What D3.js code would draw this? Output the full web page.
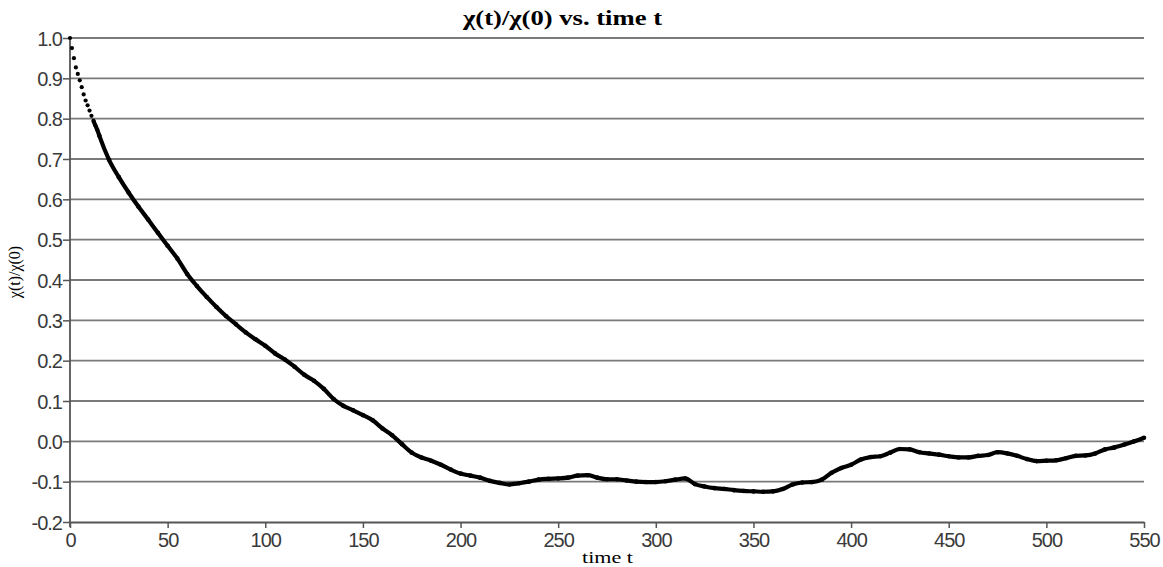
<!DOCTYPE html>
<html>
<head>
<meta charset="utf-8">
<script src="https://cdn.jsdelivr.net/npm/d3@7"></script>
<style>
  body { margin: 0; background: #fff; }
  svg { display: block; }
  .tick text { font-family: "Liberation Sans", Arial, sans-serif; font-size: 20px; fill: #3a3a3a; letter-spacing: -1px; }
</style>
</head>
<body>
<svg></svg>
<script>
// sampled curve chi(t)/chi(0)
let times = [0,1,2,3,4,5,6,7,8,9,10,11,12,13,14,
  15,20,25,30,35,40,45,50,55,60,65,70,75,80,85,90,95,100,105,110,115,120,125,130,135,140,145,150,
  155,160,165,170,175,180,185,190,195,200,205,210,215,220,225,230,235,240,245,250,255,260,265,270,
  275,280,285,290,295,300,305,310,315,320,325,330,335,340,345,350,355,360,365,370,375,380,385,390,
  395,400,405,410,415,420,425,430,435,440,445,450,455,460,465,470,475,480,485,490,495,500,505,510,
  515,520,525,530,535,540,545,550];
let ratio = [1.0,0.975,0.95,0.927,0.911,0.895,0.878,0.860,0.845,0.833,0.820,0.807,0.795,0.783,0.772,
  0.758,0.698,0.655,0.617,0.582,0.55,0.517,0.485,0.453,0.415,0.385,0.358,0.333,0.31,0.29,0.27,0.253,0.237,0.218,0.203,0.185,0.165,0.15,0.13,0.105,0.088,0.077,0.065,
  0.052,0.032,0.015,-0.007,-0.028,-0.04,-0.048,-0.058,-0.07,-0.08,-0.085,-0.09,-0.098,-0.103,-0.107,-0.104,-0.1,-0.095,-0.093,-0.092,-0.09,-0.085,-0.084,-0.09,
  -0.094,-0.094,-0.097,-0.1,-0.101,-0.101,-0.099,-0.095,-0.092,-0.106,-0.112,-0.116,-0.118,-0.121,-0.123,-0.124,-0.125,-0.124,-0.118,-0.107,-0.102,-0.101,-0.095,-0.078,
  -0.066,-0.058,-0.045,-0.039,-0.037,-0.028,-0.019,-0.02,-0.027,-0.03,-0.033,-0.037,-0.04,-0.04,-0.036,-0.034,-0.027,-0.03,-0.036,-0.044,-0.049,-0.048,-0.047,-0.042,
  -0.036,-0.035,-0.03,-0.02,-0.015,-0.008,0.0,0.009];

let xTicks = [0,50,100,150,200,250,300,350,400,450,500,550];
let yTicks = [-0.2,-0.1,0.0,0.1,0.2,0.3,0.4,0.5,0.6,0.7,0.8,0.9,1.0];

let width = 1163;
let height = 567;
let plotLeft = 70, plotRight = 1144, plotTop = 38, plotBottom = 522;

let svg = d3.select("svg").attr("width", width).attr("height", height);

let xScale = d3.scaleLinear().domain([0, 550]).range([plotLeft, plotRight]);
let yScale = d3.scaleLinear().domain([-0.2, 1.0]).range([plotBottom, plotTop]);

// horizontal grid
svg.append("g")
   .selectAll("line")
   .data(yTicks.filter(d => d > -0.2))
   .enter()
   .append("line")
   .attr("x1", plotLeft).attr("x2", plotRight)
   .attr("y1", d => yScale(d)).attr("y2", d => yScale(d))
   .attr("stroke", "#7a7a7a")
   .attr("stroke-width", 1.8);

let xAxis = d3.axisBottom(xScale).tickValues(xTicks).tickSize(6).tickSizeOuter(0).tickPadding(4);
let gx = svg.append("g").attr("transform", "translate(0," + plotBottom + ")").call(xAxis);

let yAxis = d3.axisLeft(yScale).tickValues(yTicks).tickFormat(d => d.toFixed(1)).tickSize(7).tickSizeOuter(0).tickPadding(1);
let gy = svg.append("g").attr("transform", "translate(" + plotLeft + ",0)").call(yAxis);

[gx, gy].forEach(g => {
  g.select(".domain").attr("stroke", "#555").attr("stroke-width", 1.8);
  g.selectAll(".tick line").attr("stroke", "#555").attr("stroke-width", 1.5);
});
gy.selectAll(".tick text").attr("dy", "0.36em");
gx.selectAll(".tick text").attr("dy", "0.75em");
gy.select(".domain").attr("d", "M0," + plotTop + "V" + (plotBottom + 5));

// curve
let pts = times.map((t, i) => [t, ratio[i]]);
let line = d3.line().x(d => xScale(d[0])).y(d => yScale(d[1])).curve(d3.curveMonotoneX);

svg.append("path")
   .datum(pts.filter(d => d[0] >= 12))
   .attr("d", line)
   .attr("fill", "none")
   .attr("stroke", "#000")
   .attr("stroke-width", 4.2)
   .attr("stroke-linejoin", "round");

svg.selectAll("circle.pt")
   .data(pts)
   .enter()
   .append("circle")
   .attr("class", "pt")
   .attr("cx", d => xScale(d[0]))
   .attr("cy", d => yScale(d[1]))
   .attr("r", d => d[0] < 15 ? 2.1 : 2.3)
   .attr("fill", "#000");

// titles
svg.append("text")
   .attr("x", 463).attr("y", 25)
   .attr("textLength", 199)
   .attr("lengthAdjust", "spacingAndGlyphs")
   .style("font-family", "'Liberation Serif', 'Times New Roman', serif")
   .style("font-weight", "bold")
   .style("font-size", "21px")
   .text("χ(t)/χ(0) vs. time t");

svg.append("text")
   .attr("x", 582).attr("y", 563)
   .attr("textLength", 51)
   .attr("lengthAdjust", "spacingAndGlyphs")
   .style("font-family", "'Liberation Serif', 'Times New Roman', serif")
   .style("font-size", "17px")
   .text("time t");

svg.append("text")
   .attr("transform", "translate(20,272) rotate(-90)")
   .attr("text-anchor", "middle")
   .style("font-family", "'Liberation Serif', 'Times New Roman', serif")
   .style("font-size", "16px")
   .text("χ(t)/χ(0)");
</script>
</body>
</html>
